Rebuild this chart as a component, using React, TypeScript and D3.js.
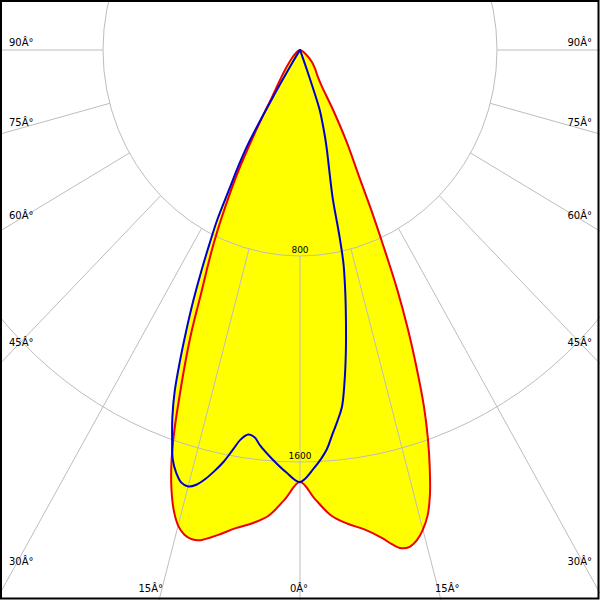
import React from 'react';
import * as d3 from 'd3';

// Polar grid
const ringValues = [800, 1600];
const ringLabels = ['800', '1600'];
const gridAngles = [0, 15, 30, 45, 60, 75, 90];
const angleLabels = ['0Â°', '15Â°', '30Â°', '45Â°', '60Â°', '75Â°', '90Â°'];

// C0 plane (red, right half) – gamma in degrees, intensity in cd
const c0Angles = [0, 2, 4, 6, 8, 10, 11, 12, 13, 14, 15, 16, 17, 18, 19, 20, 21, 22, 23, 24, 25, 26, 28, 30, 32, 35, 40, 46, 55, 70, 90];
const c0Values = [1678, 1745, 1812, 1850, 1880, 1925, 1955, 1978, 1980, 1962, 1928, 1880, 1805, 1705, 1595, 1470, 1320, 1170, 1010, 830, 680, 550, 400, 268, 170, 125, 95, 68, 30, 5, 0];

// C180 plane (red, left half)
const c180Angles = [0, 2, 4, 6, 8, 10, 12, 13, 14, 15, 16, 17, 18, 19, 20, 21, 22, 23, 24, 25, 26, 28, 30, 32, 35, 38, 46, 55, 70, 90];
const c180Values = [1678, 1745, 1812, 1848, 1875, 1912, 1946, 1950, 1940, 1912, 1860, 1785, 1690, 1570, 1430, 1300, 1170, 1030, 925, 830, 730, 540, 340, 210, 140, 100, 45, 20, 5, 0];

// C90 plane (blue, right half)
const c90Angles = [0, 2, 4, 5, 6, 7, 8, 9, 10, 11, 12, 12.5, 13, 14, 15, 16, 17, 18, 19, 20, 21, 90];
const c90Values = [1678, 1625, 1555, 1500, 1450, 1397, 1300, 1190, 1075, 965, 850, 740, 590, 500, 440, 390, 340, 290, 245, 90, 20, 0];

// C270 plane (blue, left half)
const c270Angles = [0, 2, 4, 6, 7, 8, 9, 10, 11, 12, 13, 14, 15, 16, 17, 18, 19, 20, 21, 22, 23, 24, 25, 26, 27, 28, 29, 30, 31, 32, 34, 90];
const c270Values = [1678, 1640, 1594, 1545, 1515, 1508, 1530, 1578, 1630, 1672, 1710, 1740, 1755, 1748, 1718, 1672, 1595, 1515, 1420, 1300, 1180, 1065, 950, 840, 740, 610, 520, 420, 200, 60, 10, 0];

const W = 600;
const H = 600;
const FONT = 'DejaVu Sans, Verdana, sans-serif';

export default function App() {
  const x = d3.scaleLinear().domain([-1600, 1600]).range([-94, 694]);
  const y = d3.scaleLinear().domain([0, 1600]).range([50, 462]);
  const rad = (g: number) => (g * Math.PI) / 180;
  const pt = (g: number, v: number, side: number): [number, number] => [
    x(side * v * Math.sin(rad(g))),
    y(v * Math.cos(rad(g))),
  ];

  const planePoints = (lA: number[], lV: number[], rA: number[], rV: number[]) => {
    const pts: [number, number][] = [];
    for (let i = lA.length - 1; i >= 0; i--) pts.push(pt(lA[i], lV[i], -1));
    for (let i = 1; i < rA.length; i++) pts.push(pt(rA[i], rV[i], 1));
    return pts;
  };

  const line = d3.line<[number, number]>().curve(d3.curveCatmullRom.alpha(0.5));
  const redPath = line(planePoints(c180Angles, c180Values, c0Angles, c0Values)) + 'Z';
  const bluePath = line(planePoints(c270Angles, c270Values, c90Angles, c90Values)) + 'Z';

  const cx = x(0);
  const cy = y(0);
  const gridColor = '#bdbdbd';

  // label layout (positions only)
  const sideLabelY: Record<number, number> = { 90: 46, 75: 126, 60: 219, 45: 346, 30: 565 };

  return (
    <svg
      width={W}
      height={H}
      style={{ position: 'absolute', left: 0, top: 0, background: '#fff' }}
      fontFamily={FONT}
    >
      <rect x={0} y={0} width={W} height={H} fill="#fff" />
      {/* fills */}
      <path d={bluePath} fill="#ffff00" stroke="none" />
      <path d={redPath} fill="#ffff00" stroke="none" />
      {/* grid rings */}
      {ringValues.map((v) => (
        <ellipse
          key={v}
          cx={cx}
          cy={cy}
          rx={x(v) - cx}
          ry={y(v) - cy}
          fill="none"
          stroke={gridColor}
          strokeWidth={1}
        />
      ))}
      {/* radial lines */}
      {gridAngles.map((g) =>
        [-1, 1].map((s) => {
          if (g === 0 && s === 1) return null;
          const [x1, y1] = pt(g, ringValues[0], s);
          const [x2, y2] = pt(g, 6000, s);
          return (
            <line key={`${g}-${s}`} x1={x1} y1={y1} x2={x2} y2={y2} stroke={gridColor} strokeWidth={1} />
          );
        })
      )}
      {/* curves */}
      <path d={redPath} fill="none" stroke="#ee0000" strokeWidth={2} strokeLinejoin="round" />
      <path d={bluePath} fill="none" stroke="#0000cc" strokeWidth={2} strokeLinejoin="round" />
      {/* ring labels */}
      {ringValues.map((v, i) => (
        <text key={v} x={cx} y={y(v) - 3} fontSize={9} textAnchor="middle" fill="#000">
          {ringLabels[i]}
        </text>
      ))}
      {/* angle labels */}
      {gridAngles.map((g, i) => {
        if (sideLabelY[g] !== undefined) {
          return (
            <g key={g}>
              <text x={9} y={sideLabelY[g]} fontSize={10} fill="#000">{angleLabels[i]}</text>
              <text x={592} y={sideLabelY[g]} fontSize={10} textAnchor="end" fill="#000">{angleLabels[i]}</text>
            </g>
          );
        }
        if (g === 0) {
          return (
            <text key={g} x={299} y={592} fontSize={10} textAnchor="middle" fill="#000">{angleLabels[i]}</text>
          );
        }
        return (
          <g key={g}>
            <text x={163} y={592} fontSize={10} textAnchor="end" fill="#000">{angleLabels[i]}</text>
            <text x={435} y={592} fontSize={10} fill="#000">{angleLabels[i]}</text>
          </g>
        );
      })}
      {/* frame */}
      <rect x={1} y={1} width={W - 2.5} height={H - 2.5} fill="none" stroke="#000" strokeWidth={2} />
    </svg>
  );
}
